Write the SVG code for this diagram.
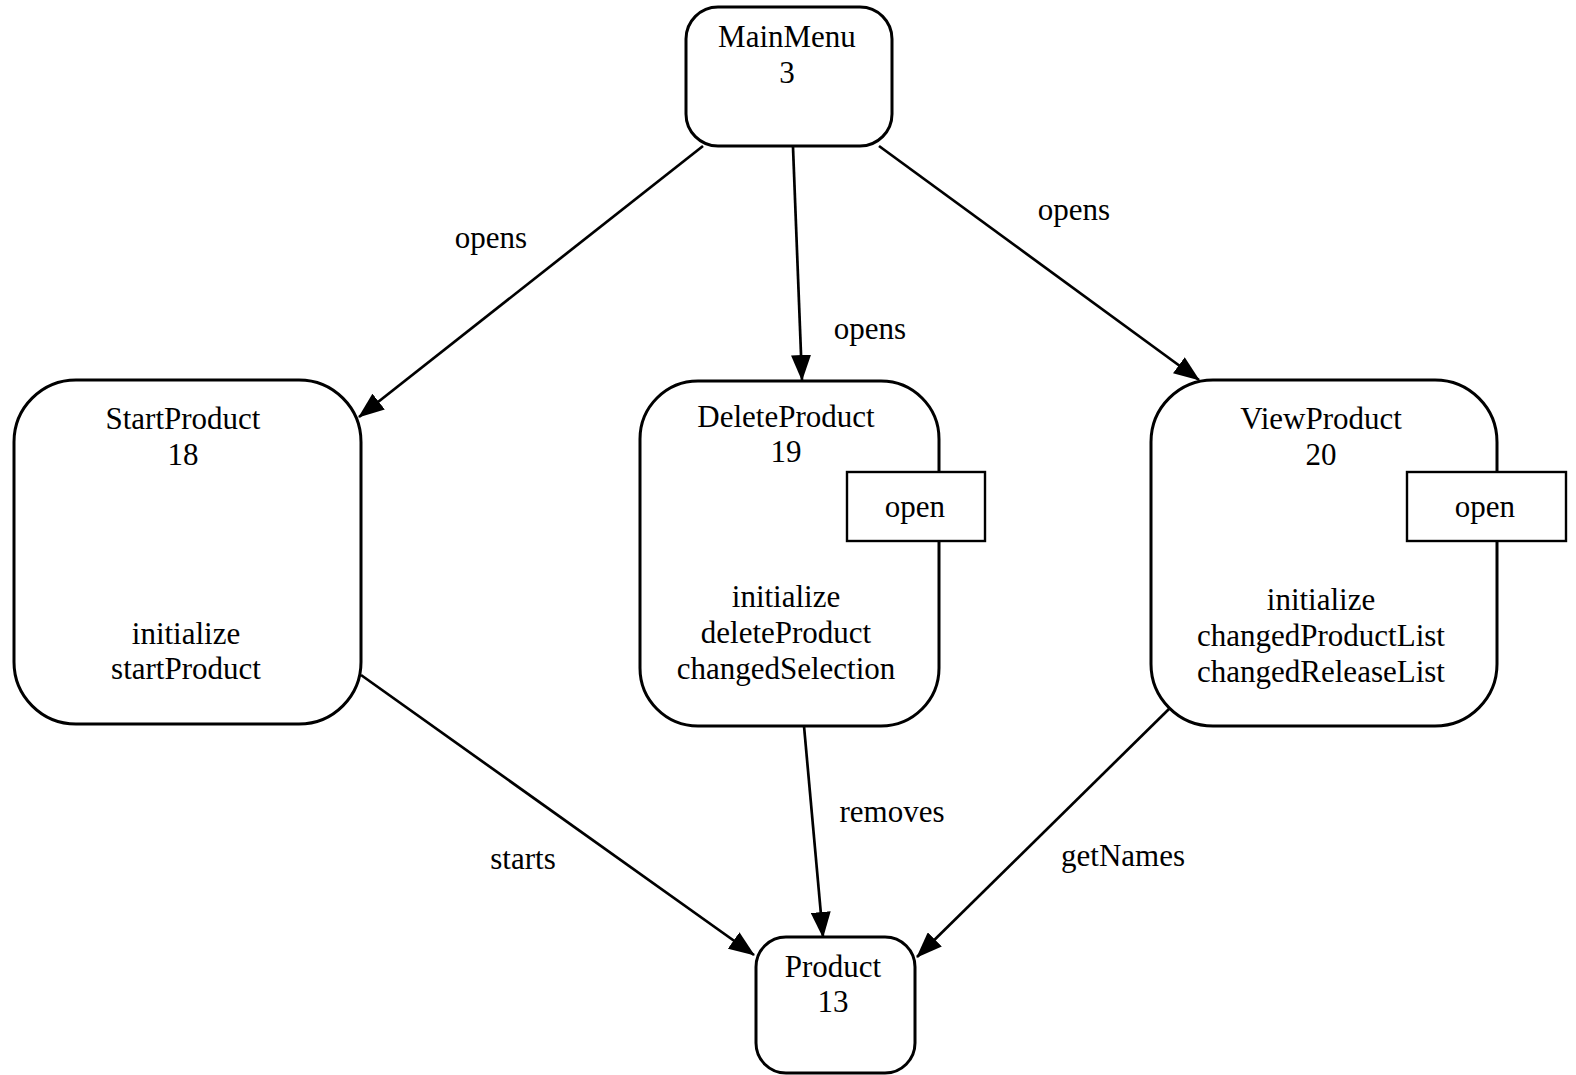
<svg xmlns="http://www.w3.org/2000/svg" width="1576" height="1075" viewBox="0 0 1576 1075">
<defs>
<marker id="arrow" markerWidth="26" markerHeight="20" refX="25" refY="10" orient="auto" markerUnits="userSpaceOnUse">
<path d="M0,0 L26,10 L0,20 Z" fill="#000"/>
</marker>
<style>
.node{fill:#fff;stroke:#000;stroke-width:3}
.box{fill:#fff;stroke:#000;stroke-width:2.4}
.edge{fill:none;stroke:#000;stroke-width:2.7;marker-end:url(#arrow)}
text{font-family:"Liberation Serif","Times New Roman",serif;font-size:31px;fill:#000;text-anchor:middle}
</style>
</defs>
<rect width="1576" height="1075" fill="#fff"/>
<g id="connectors">
<line class="edge" x1="703" y1="146" x2="359" y2="417"/>
<line class="edge" x1="793" y1="147" x2="802" y2="380"/>
<line class="edge" x1="879" y1="146" x2="1199" y2="380"/>
<line class="edge" x1="361" y1="675" x2="754" y2="955"/>
<line class="edge" x1="804" y1="726" x2="823" y2="937"/>
<line class="edge" x1="1170" y1="708" x2="917" y2="957"/>
<text x="491" y="248">opens</text>
<text x="870" y="339">opens</text>
<text x="1074" y="220">opens</text>
<text x="523" y="869">starts</text>
<text x="892" y="822">removes</text>
<text x="1123" y="866">getNames</text>
</g>
<g id="MainMenu">
<rect class="node" x="686" y="7" width="206" height="139" rx="32" ry="32"/>
<text x="787" y="47">MainMenu</text>
<text x="787" y="83">3</text>
</g>
<g id="StartProduct">
<rect class="node" x="14" y="380" width="347" height="344" rx="62" ry="62"/>
<text x="183" y="429">StartProduct</text>
<text x="183" y="465">18</text>
<text x="186" y="644">initialize</text>
<text x="186" y="679">startProduct</text>
</g>
<g id="DeleteProduct">
<rect class="node" x="640" y="381" width="299" height="345" rx="58" ry="58"/>
<text x="786" y="427">DeleteProduct</text>
<text x="786" y="462">19</text>
<rect class="box" x="847" y="472" width="138" height="69"/>
<text x="915" y="517">open</text>
<text x="786" y="607">initialize</text>
<text x="786" y="643">deleteProduct</text>
<text x="786" y="679">changedSelection</text>
</g>
<g id="ViewProduct">
<rect class="node" x="1151" y="380" width="346" height="346" rx="62" ry="62"/>
<text x="1321" y="429">ViewProduct</text>
<text x="1321" y="465">20</text>
<rect class="box" x="1407" y="472" width="159" height="69"/>
<text x="1485" y="517">open</text>
<text x="1321" y="610">initialize</text>
<text x="1321" y="646">changedProductList</text>
<text x="1321" y="682">changedReleaseList</text>
</g>
<g id="Product">
<rect class="node" x="756" y="937" width="159" height="136" rx="30" ry="30"/>
<text x="833" y="977">Product</text>
<text x="833" y="1012">13</text>
</g>
</svg>
